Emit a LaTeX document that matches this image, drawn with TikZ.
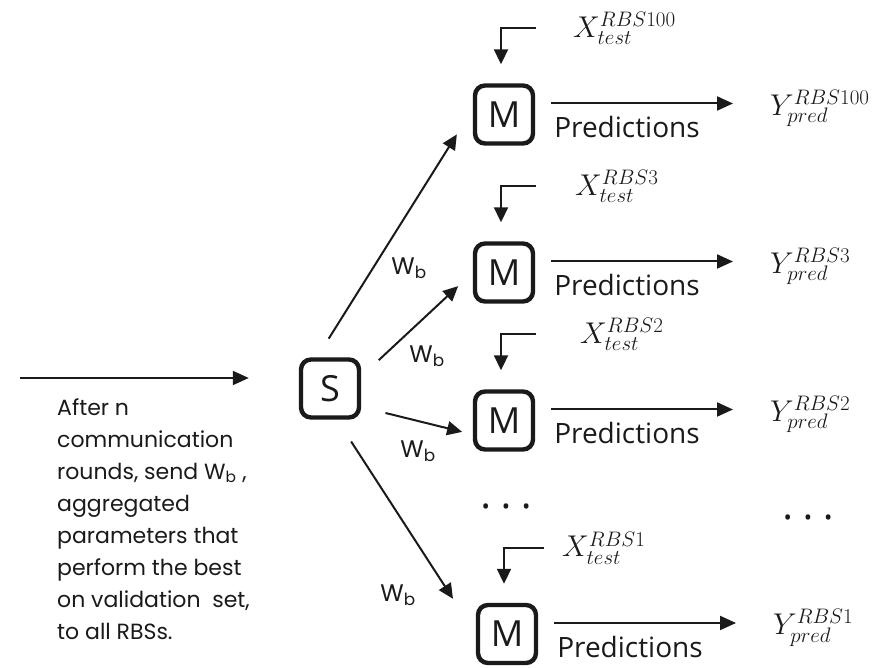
\RequirePackage{fix-cm}
\documentclass[tikz,border=0pt]{standalone}
\usepackage{fontspec}
\usetikzlibrary{arrows.meta,calc,positioning}
\newfontfamily\segoe{Open Sans}
\newfontfamily\hilda{Poppins}
\definecolor{fdInk}{HTML}{1A1A1A}
\tikzset{
 fed/.style={line cap=butt,line join=miter,text=fdInk},
 unit/.style={rectangle,rounded corners=10pt,draw=fdInk,line width=4.4pt,minimum size=58pt,inner sep=0pt,
   font=\segoe\fontsize{36}{36}\selectfont},
 feed/.style={draw=fdInk,line width=2pt,-{Triangle[length=15pt,width=14pt]}},
 flow/.style={draw=fdInk,line width=2pt,-{Triangle[length=16pt,width=14pt]}},
 wlab/.style={font=\hilda\fontsize{24}{24}\selectfont,inner sep=0pt},
 xlab/.style={font=\fontsize{30}{32}\selectfont,anchor=west,inner sep=0pt},
 predlab/.style={font=\segoe\fontsize{28}{28}\selectfont,inner sep=0pt},
 note/.style={font=\hilda\fontsize{22}{32}\selectfont,align=left,anchor=north west,inner sep=0pt},
 dots/.style={font=\segoe\fontsize{22}{22}\selectfont,inner sep=0pt}
}

\begin{document}
\begin{tikzpicture}[fed,x=1pt,y=1pt]
 \useasboundingbox (0,0) rectangle (889,667);
 \node[unit] (srv) at (330,278.5) {S};
 % one row per receiving RBS
 \foreach \rbs/\cx/\cy/\lx/\gap in {100/504/552.5/69/37,3/504/394.5/71/39,2/504/246.5/76/44,1/507/33/55/18} {
  \node[unit] (m\rbs) at (\cx,\cy) {M};
  \node[xlab] (x\rbs) at ([xshift=\lx pt,yshift=86pt]m\rbs.center) {$X_{test}^{RBS\rbs}$};
  \draw[feed,shorten <=\gap pt] (x\rbs.west) -| ([xshift=-3pt,yshift=19pt]m\rbs.north);
  \node[xlab] (y\rbs) at ([xshift=266pt,yshift=6pt]m\rbs.center) {$Y_{pred}^{RBS\rbs}$};
  \draw[flow,shorten <=16pt,shorten >=37pt] ([yshift=11pt]m\rbs.east) -- ([yshift=11pt]m\rbs.east -| y\rbs.west);
  \node[predlab] (p\rbs) at ([xshift=123pt,yshift=-13pt]m\rbs.center) {Predictions};
 }
 \draw[feed,shorten <=22pt,shorten >=30pt] ([xshift=-13pt]srv.north) -- ([yshift=5.5pt]m100.west);
 \draw[feed,shorten <=24pt,shorten >=20pt] ([yshift=12pt]srv.east) -- (m3.west);
 \draw[feed,shorten <=25pt,shorten >=11pt] ([yshift=-18.5pt]srv.east) -- ([yshift=-14pt]m2.west);
 \draw[feed,shorten <=26pt,shorten >=42pt] ([xshift=7pt]srv.south) -- (m1.west);
 \node[wlab] (w100) at (409,399) {W\textsubscript{b}};
 \node[wlab] (w3) at (427,311) {W\textsubscript{b}};
 \node[wlab] (w2) at (418,216) {W\textsubscript{b}};
 \node[wlab] (w1) at (398,72) {W\textsubscript{b}};
 % input from the rounds
 \coordinate (src) at (20,289);
 \draw[flow,shorten >=50pt] (src) -- (src -| srv.west);
 \node[note] (txt) at (57,269) {After n\\communication\\rounds, send W\textsubscript{b} ,\\aggregated\\parameters that\\perform the best\\on validation\ \ set,\\to all RBSs.};
 \node[dots] (dl) at (506,158) {•\hspace{12pt}•\hspace{12pt}•};
 \node[dots] (dr) at (808,147) {•\hspace{12pt}•\hspace{12pt}•};
\end{tikzpicture}
\end{document}
